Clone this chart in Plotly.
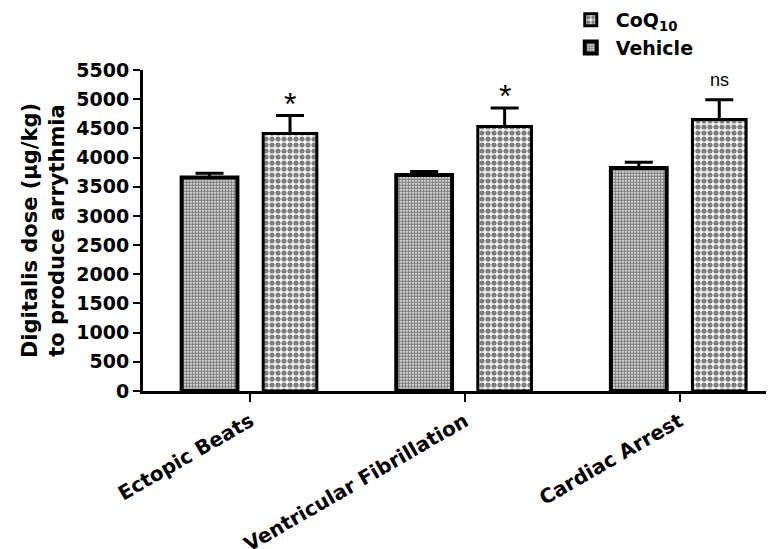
import plotly.graph_objects as go

categories = ["Ectopic Beats", "Ventricular Fibrillation", "Cardiac Arrest"]
vehicle_mean = [3660, 3700, 3820]
vehicle_sem = [70, 60, 100]
coq10_mean = [4410, 4530, 4650]
coq10_sem = [310, 320, 340]
significance = ["*", "*", "ns"]
y_ticks = [0, 500, 1000, 1500, 2000, 2500, 3000, 3500, 4000, 4500, 5000, 5500]

FONT = "DejaVu Sans, Arial, sans-serif"

fig = go.Figure()
fig.add_trace(go.Bar(
    x=categories, y=vehicle_mean, name="Vehicle",
    offset=-0.32, width=0.26, legendrank=2,
    marker=dict(color="white", line=dict(color="black", width=4),
                pattern=dict(shape=".", size=3, solidity=0.7, fgcolor="black", bgcolor="white")),
    error_y=dict(type="data", symmetric=False, array=vehicle_sem, arrayminus=[0]*3,
                 color="black", thickness=3, width=14),
))
fig.add_trace(go.Bar(
    x=categories, y=coq10_mean, name="CoQ<sub>10</sub>",
    offset=0.06, width=0.25, legendrank=1,
    marker=dict(color="white", line=dict(color="black", width=3),
                pattern=dict(shape=".", size=6, solidity=0.6, fgcolor="black", bgcolor="white")),
    error_y=dict(type="data", symmetric=False, array=coq10_sem, arrayminus=[0]*3,
                 color="black", thickness=3, width=14),
))

annotations = []
for i, (c, m, s, t) in enumerate(zip(categories, coq10_mean, coq10_sem, significance)):
    annotations.append(dict(
        x=i + 0.185, y=m + s, xref="x", yref="y", text=t, showarrow=False,
        yanchor="bottom", yshift=(-8 if t == "*" else 8),
        font=dict(family="Liberation Sans, Arial, sans-serif",
                  size=(32 if t == "*" else 18), color="black"),
    ))

# the page adds an 8px body margin, so the figure is 8px smaller on each side
fig.update_layout(
    width=766, height=541,
    margin=dict(l=135, r=0, t=62, b=158, autoexpand=False),
    paper_bgcolor="white", plot_bgcolor="white",
    font=dict(family=FONT, color="black"),
    barmode="overlay",
    showlegend=True,
    legend=dict(x=0.67, y=1.215, xanchor="left", yanchor="top",
                font=dict(family=FONT, size=19, color="black", weight="bold"),
                bgcolor="rgba(0,0,0,0)", tracegroupgap=0, itemwidth=40),
    annotations=annotations,
    xaxis=dict(
        range=[-0.5, 2.44], showline=True, linecolor="black", linewidth=3,
        ticks="outside", ticklen=8, tickwidth=2, tickcolor="black",
        tickangle=-30, showgrid=False, zeroline=False, automargin=False,
        tickfont=dict(family=FONT, size=20, color="black", weight="bold"),
    ),
    yaxis=dict(
        range=[0, 5500], tickvals=y_ticks, showline=True, linecolor="black", linewidth=3,
        ticks="outside", ticklen=7, tickwidth=2, tickcolor="black",
        showgrid=False, zeroline=False, automargin=False,
        tickfont=dict(family=FONT, size=19, color="black", weight="bold"),
        title=dict(text="Digitalis dose (µg/kg)<br>to produce arrythmia",
                   font=dict(family=FONT, size=21, color="black", weight="bold"),
                   standoff=6),
    ),
)

fig.write_html("out.html")
